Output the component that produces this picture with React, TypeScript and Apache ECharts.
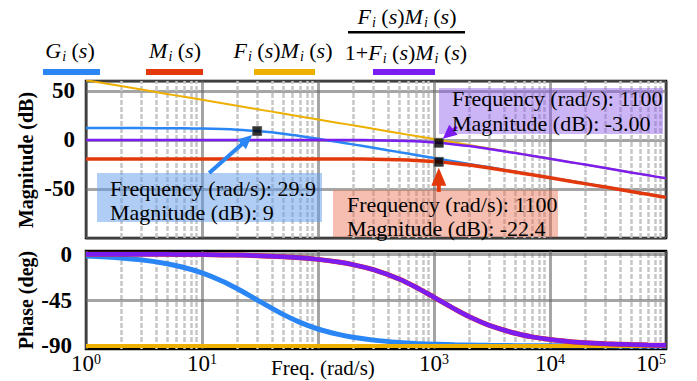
import React, { useEffect, useRef } from 'react';
import * as echarts from 'echarts';

// ---- data ----
const freqs = [1, 2, 3, 5, 7, 10, 15, 20, 30, 50, 70, 100, 150, 200, 300, 500, 700, 1000, 1100, 1500, 2000, 3000, 5000, 7000, 10000, 15000, 20000, 30000, 50000, 70000, 100000];
const magG = [12.0, 12.0, 12.0, 11.9, 11.8, 11.5, 11.0, 10.4, 9.0, 6.2, 3.9, 1.1, -2.2, -4.6, -8.1, -12.5, -15.4, -18.5, -19.3, -22.0, -24.5, -28.0, -32.5, -35.4, -38.5, -42.0, -44.5, -48.0, -52.5, -55.4, -58.5];
const magM = [-19.4, -19.4, -19.4, -19.4, -19.4, -19.4, -19.4, -19.4, -19.4, -19.4, -19.4, -19.4, -19.5, -19.5, -19.7, -20.2, -20.9, -22.0, -22.4, -24.0, -25.7, -28.7, -32.8, -35.6, -38.6, -42.1, -44.6, -48.1, -52.6, -55.5, -58.6];
const magFM = [60.8, 54.8, 51.3, 46.8, 43.9, 40.8, 37.3, 34.8, 31.3, 26.8, 23.9, 20.8, 17.3, 14.8, 11.3, 6.8, 3.9, 0.8, 0.0, -2.7, -5.2, -8.7, -13.2, -16.1, -19.2, -22.7, -25.2, -28.7, -33.2, -36.1, -39.2];
const magCL = [0, 0, 0, 0, 0, 0, 0, 0, 0, 0, 0, 0, -0.1, -0.1, -0.3, -0.8, -1.5, -2.6, -3.0, -4.6, -6.3, -9.3, -13.4, -16.2, -19.2, -22.7, -25.2, -28.7, -33.2, -36.1, -39.2];
const phG = [-1.9, -3.8, -5.7, -9.5, -13.2, -18.5, -26.6, -33.8, -45.1, -59.1, -66.9, -73.4, -78.7, -81.5, -84.3, -86.6, -87.6, -88.3, -88.4, -88.9, -89.1, -89.4, -89.7, -89.8, -89.8, -89.9, -89.9, -89.9, -90.0, -90.0, -90.0];
const phM = [-0.1, -0.1, -0.2, -0.3, -0.4, -0.5, -0.8, -1.0, -1.6, -2.6, -3.6, -5.2, -7.8, -10.3, -15.3, -24.4, -32.5, -42.3, -45.0, -53.7, -61.2, -69.9, -77.6, -81.1, -83.7, -85.8, -86.9, -87.9, -88.7, -89.1, -89.4];
const phCL = [-0.1, -0.1, -0.2, -0.3, -0.4, -0.5, -0.8, -1.0, -1.6, -2.6, -3.6, -5.2, -7.8, -10.3, -15.3, -24.4, -32.5, -42.3, -45.0, -53.7, -61.2, -69.9, -77.6, -81.1, -83.7, -85.8, -86.9, -87.9, -88.7, -89.1, -89.4];
const phFMFreqs = [1, 100000];
const phFM = [-90, -90];

const magTicks = [50, 0, -50];
const phaseTicks = [0, -45, -90];
const freqTickExps = [0, 1, 3, 4, 5]; // 10^2 label is covered by the axis name in the reference

const markerG = [29.9, 9];
const markerCL = [1100, -3.0];
const markerM = [1100, -22.4];

const noteG = ['Frequency (rad/s): 29.9', 'Magnitude (dB): 9'];
const noteCL = ['Frequency (rad/s): 1100', 'Magnitude (dB): -3.00'];
const noteM = ['Frequency (rad/s): 1100', 'Magnitude (dB): -22.4'];

const FONT = "'Liberation Serif', 'Times New Roman', serif";
const C_BLUE = '#2a86f5';
const C_RED = '#e3380b';
const C_ORANGE = '#edb000';
const C_PURPLE = '#7b1cf0';

export default function App() {
  const ref = useRef<HTMLDivElement>(null);
  useEffect(() => {
    const chart = echarts.init(ref.current as HTMLDivElement, null, { renderer: 'svg' });
    const pairs = (xs: number[], ys: number[]) => xs.map((x, i) => [x, ys[i]]);

    const minorVals: number[] = [];
    for (let d = 0; d < 5; d++) for (let m = 2; m <= 9; m++) minorVals.push(m * Math.pow(10, d));
    const majorStyle = { color: 'rgba(105,105,105,0.6)', width: 3, type: 'solid' };
    const minorStyle = { color: '#c6c6c6', width: 2.5, type: [5, 2] };

    const xAxisBase = (gi: number, showLabels: boolean) => ({
      type: 'log', logBase: 10, min: 1, max: 100000, gridIndex: gi,
      axisLine: { show: false }, axisTick: { show: false },
      splitLine: { show: true, lineStyle: majorStyle },
      axisLabel: showLabels ? {
        show: true, margin: 3, color: '#000', alignMaxLabel: 'right',
        formatter: (v: number) => {
          const e = Math.round(Math.log10(v));
          return freqTickExps.includes(e) ? `{b|10}{s|${e}}` : '';
        },
        rich: {
          b: { fontSize: 23, fontFamily: FONT, color: '#000' },
          s: { fontSize: 14, fontFamily: FONT, color: '#000', verticalAlign: 'top' },
        },
      } : { show: false },
    });

    const lineSeries = (xi: number, xs: number[], ys: number[], color: string, width: number, z: number) => ({
      type: 'line', xAxisIndex: xi, yAxisIndex: xi, data: pairs(xs, ys),
      showSymbol: false, symbol: 'none', smooth: 0.3, clip: true, silent: true,
      lineStyle: { color, width }, itemStyle: { color }, z,
    });

    const helper = (xi: number, hLines: number[], yv: number) => ({
      type: 'line', xAxisIndex: xi, yAxisIndex: xi, data: [[1, yv], [100000, yv]],
      showSymbol: false, symbol: 'none', silent: true, z: 1,
      lineStyle: { opacity: 0 },
      markLine: {
        z: 1, silent: true, symbol: ['none', 'none'], label: { show: false }, animation: false,
        data: [
          ...minorVals.map((v) => ({ xAxis: v, lineStyle: minorStyle })),
          ...hLines.map((v) => ({ yAxis: v, lineStyle: majorStyle })),
        ],
      },
    });

    const marker = (p: number[]) => ({
      type: 'scatter', xAxisIndex: 0, yAxisIndex: 0, data: [p], symbol: 'rect', symbolSize: 9,
      itemStyle: { color: '#000', borderColor: '#555', borderWidth: 1 }, z: 20, silent: true,
    });

    chart.setOption({
      animation: false,
      backgroundColor: '#fff',
      grid: [
        { left: 86, top: 81, width: 580, height: 157, show: true, borderColor: '#000', borderWidth: 2.5, backgroundColor: 'transparent' },
        { left: 86, top: 251, width: 580, height: 98, show: true, borderColor: '#000', borderWidth: 2.5, backgroundColor: 'transparent' },
      ],
      xAxis: [xAxisBase(0, false), xAxisBase(1, true)],
      yAxis: [
        {
          type: 'value', gridIndex: 0, min: -100, max: 60, interval: 50,
          axisLine: { show: false }, axisTick: { show: false },
          splitLine: { show: true, lineStyle: majorStyle },
          axisLabel: {
            margin: 11, color: '#000', fontSize: 23, fontWeight: 'bold', fontFamily: FONT,
            formatter: (v: number) => (magTicks.includes(v) ? String(v) : ''),
          },
        },
        {
          type: 'value', gridIndex: 1, min: -93, max: 3,
          axisLine: { show: false }, axisTick: { show: false },
          splitLine: { show: false },
          axisLabel: {
            margin: 14, color: '#000', fontSize: 23, fontWeight: 'bold', fontFamily: FONT,
            customValues: phaseTicks,
            formatter: (v: number) => String(v),
          },
        },
      ],
      series: [
        helper(0, [], 0),
        helper(1, phaseTicks, -45),
        lineSeries(0, freqs, magG, C_BLUE, 2.5, 3),
        lineSeries(0, freqs, magFM, C_ORANGE, 2, 4),
        lineSeries(0, freqs, magM, C_RED, 3.5, 5),
        lineSeries(0, freqs, magCL, C_PURPLE, 2.5, 6),
        lineSeries(1, freqs, phG, C_BLUE, 5, 3),
        lineSeries(1, phFMFreqs, phFM, C_ORANGE, 4, 4),
        lineSeries(1, freqs, phM, C_RED, 5, 5),
        lineSeries(1, freqs, phCL, C_PURPLE, 4.5, 6),
        marker(markerG),
        marker(markerCL),
        marker(markerM),
      ],
    });

    const toPx = (p: number[]) => chart.convertToPixel({ xAxisIndex: 0, yAxisIndex: 0 }, p) as number[];
    const mG = toPx(markerG);
    const mCL = toPx(markerCL);
    const mM = toPx(markerM);

    const arrow = (tail: number[], tip: number[], color: string, w: number, hl: number, hw: number) => {
      const dx = tip[0] - tail[0];
      const dy = tip[1] - tail[1];
      const L = Math.hypot(dx, dy);
      const ux = dx / L, uy = dy / L;
      const bx = tip[0] - ux * hl, by = tip[1] - uy * hl;
      const px = -uy, py = ux;
      return [
        { type: 'line', z: 60, shape: { x1: tail[0], y1: tail[1], x2: bx + ux, y2: by + uy }, style: { stroke: color, lineWidth: w } },
        { type: 'polygon', z: 60, shape: { points: [tip, [bx + px * hw / 2, by + py * hw / 2], [bx - px * hw / 2, by - py * hw / 2]] }, style: { fill: color } },
      ];
    };

    const txt = (x: number, y: number, text: string, size: number, extra: any = {}, rotation = 0) => ({
      type: 'text', x, y, z: 70, rotation,
      style: {
        text, fill: '#000', fontSize: size, fontFamily: FONT,
        align: 'left', textAlign: 'left', verticalAlign: 'middle', textVerticalAlign: 'middle', ...extra,
      },
    });

    const richMath = {
      it: { fontSize: 22, fontStyle: 'italic', fontFamily: FONT, fill: '#000', color: '#000' },
      rm: { fontSize: 22, fontFamily: FONT, fill: '#000', color: '#000' },
      sb: { fontSize: 14, fontStyle: 'italic', fontFamily: FONT, fill: '#000', color: '#000', verticalAlign: 'middle', padding: [12, 0, 0, 1] },
    };
    const mathTxt = (cx: number, cy: number, text: string) => ({
      type: 'text', x: cx, y: cy, z: 70,
      style: {
        text, fill: '#000', fontSize: 22, fontFamily: FONT, rich: richMath,
        align: 'center', textAlign: 'center', verticalAlign: 'middle', textVerticalAlign: 'middle',
      },
    });
    const FsMs = '{it|F}{sb|i}{rm| (}{it|s}{rm|)}{it|M}{sb|i}{rm| (}{it|s}{rm|)}';

    const box = (x: number, y: number, w: number, h: number, fill: string) => ({
      type: 'rect', z: 50, shape: { x, y, width: w, height: h }, style: { fill },
    });

    chart.setOption({
      graphic: [
        // legend
        mathTxt(70, 50, '{it|G}{sb|i}{rm| (}{it|s}{rm|)}'),
        mathTxt(175, 50, '{it|M}{sb|i}{rm| (}{it|s}{rm|)}'),
        mathTxt(283, 50, FsMs),
        mathTxt(407, 16, FsMs),
        { type: 'rect', z: 70, shape: { x: 348, y: 31, width: 117, height: 2.5 }, style: { fill: '#000' } },
        mathTxt(406, 52, '{rm|1+}' + FsMs),
        { type: 'rect', z: 70, shape: { x: 43, y: 69, width: 57, height: 6 }, style: { fill: C_BLUE } },
        { type: 'rect', z: 70, shape: { x: 146, y: 69, width: 57, height: 6 }, style: { fill: C_RED } },
        { type: 'rect', z: 70, shape: { x: 254, y: 69, width: 61, height: 6 }, style: { fill: C_ORANGE } },
        { type: 'rect', z: 70, shape: { x: 373, y: 69, width: 62, height: 6 }, style: { fill: C_PURPLE } },
        // axis names
        txt(26, 160, 'Magnitude (dB)', 20, { fontWeight: 'bold', align: 'center', textAlign: 'center' }, Math.PI / 2),
        txt(26, 300, 'Phase (deg)', 20, { fontWeight: 'bold', align: 'center', textAlign: 'center' }, Math.PI / 2),
        txt(271, 368, 'Freq. (rad/s)', 21),
        // annotation boxes
        box(97, 173, 225, 49, 'rgba(95,155,235,0.5)'),
        box(439, 88, 224, 46, 'rgba(140,90,235,0.45)'),
        box(333, 190, 225, 47, 'rgba(232,110,80,0.45)'),
        txt(110, 188, noteG[0], 22), txt(110, 212, noteG[1], 22),
        txt(452, 98, noteCL[0], 22), txt(452, 123, noteCL[1], 22),
        txt(347, 204, noteM[0], 22), txt(347, 228, noteM[1], 22),
        // arrows
        ...arrow([mG[0] - 48, mG[1] + 42], [mG[0] - 5, mG[1] + 4], C_BLUE, 4, 14, 13),
        ...arrow([mCL[0] + 18, mCL[1] - 16], [mCL[0] + 4, mCL[1] - 4], C_PURPLE, 3, 14, 13),
        ...arrow([mM[0], mM[1] + 30], [mM[0], mM[1] + 6], C_RED, 4, 18, 15),
      ],
    });

    return () => chart.dispose();
  }, []);

  return (
    <div
      ref={ref}
      style={{ position: 'fixed', left: 0, top: 0, width: 697, height: 381, background: '#fff' }}
    />
  );
}
